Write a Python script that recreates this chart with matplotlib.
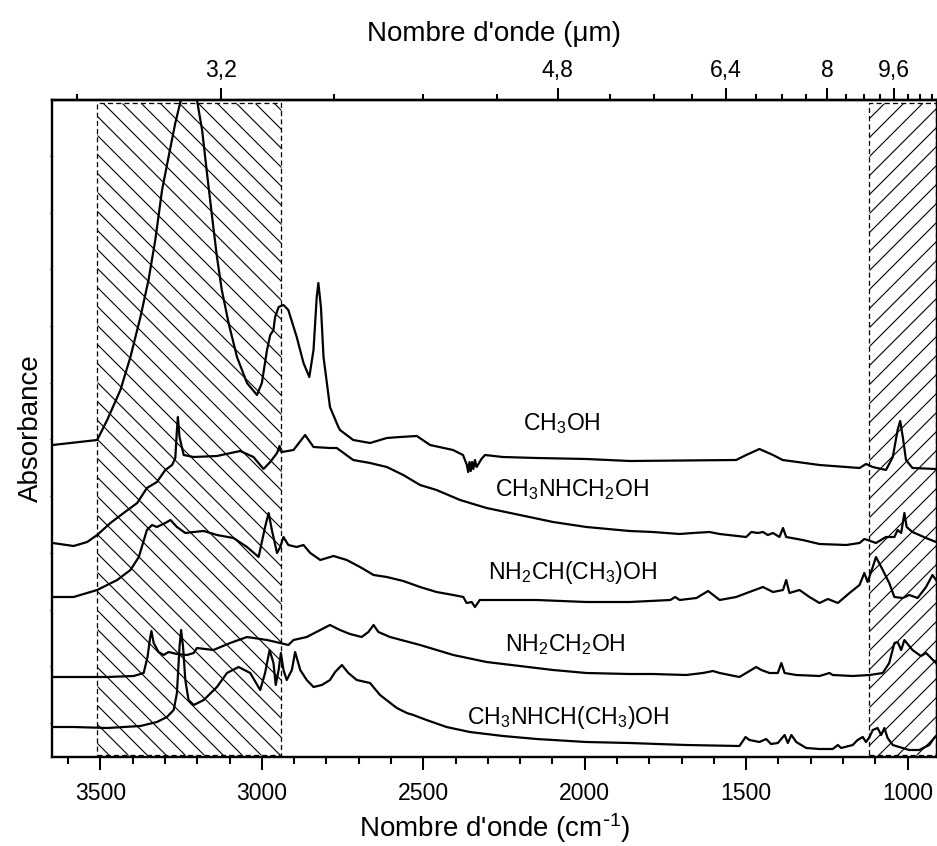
import numpy as np
import matplotlib.pyplot as plt
from matplotlib.patches import Rectangle
from matplotlib.ticker import MultipleLocator, FixedLocator, NullFormatter

plt.rcParams['font.family'] = ['Liberation Sans', 'DejaVu Sans']
plt.rcParams['mathtext.default'] = 'regular'
plt.rcParams['hatch.linewidth'] = 0.7
plt.rcParams['axes.unicode_minus'] = False

# spectra (wavenumber in cm-1, absorbance in arbitrary offset units)
ch3oh_wn = [3648, 3510, 3479, 3438, 3407, 3376, 3351, 3330, 3309, 3289, 3268, 3253, 3240,
            3228, 3214, 3201, 3185, 3170, 3154, 3139, 3124, 3103, 3077, 3046, 3015, 3000,
            2984, 2974, 2964, 2959, 2948, 2933, 2918, 2892, 2871, 2853, 2840, 2830, 2825,
            2817, 2809, 2789, 2763, 2758, 2717, 2665, 2613, 2572, 2520, 2479, 2408, 2377,
            2365, 2361, 2357, 2353, 2349, 2345, 2340, 2335, 2331, 2320, 2309, 2254, 2149,
            1995, 1861, 1531, 1500, 1459, 1417, 1387, 1273, 1149, 1129, 1108, 1067, 1046,
            1031, 1023, 1015, 1005, 985, 912]
ch3oh_abs = [3.12, 3.17, 3.37, 3.67, 4.00, 4.40, 4.77, 5.17, 5.67, 6.00, 6.34, 6.54, 6.68,
             6.74, 6.70, 6.57, 6.27, 5.84, 5.40, 5.00, 4.67, 4.34, 4.00, 3.74, 3.62, 3.74,
             4.07, 4.22, 4.27, 4.40, 4.50, 4.52, 4.47, 4.20, 3.94, 3.80, 4.07, 4.60, 4.74,
             4.50, 4.00, 3.50, 3.30, 3.27, 3.17, 3.14, 3.19, 3.20, 3.21, 3.12, 3.07, 3.02,
             2.92, 2.85, 2.95, 2.86, 2.95, 2.88, 2.97, 2.90, 2.92, 2.98, 3.02, 3.00, 2.99,
             2.98, 2.96, 2.97, 3.02, 3.08, 3.02, 2.97, 2.92, 2.89, 2.93, 2.90, 2.87, 3.00,
             3.27, 3.36, 3.20, 2.97, 2.89, 2.88]

mnm_wn = [3648, 3583, 3541, 3510, 3469, 3428, 3386, 3356, 3325, 3299, 3278, 3268, 3263,
          3260, 3255, 3242, 3211, 3139, 3067, 3026, 2995, 2974, 2953, 2945, 2938, 2902,
          2866, 2840, 2789, 2768, 2717, 2665, 2613, 2562, 2510, 2459, 2386, 2304, 2201,
          2098, 1995, 1861, 1789, 1706, 1665, 1614, 1582, 1500, 1484, 1464, 1448, 1433,
          1417, 1397, 1386, 1376, 1325, 1273, 1190, 1149, 1134, 1124, 1098, 1067, 1041,
          1031, 1020, 1010, 1003, 985, 943, 912]
mnm_abs = [2.14, 2.11, 2.15, 2.22, 2.34, 2.44, 2.54, 2.69, 2.75, 2.87, 2.92, 2.99, 3.27,
           3.40, 3.20, 3.02, 3.00, 3.01, 3.06, 3.00, 2.88, 2.95, 3.04, 3.11, 3.05, 3.07,
           3.22, 3.10, 3.09, 3.09, 2.97, 2.94, 2.90, 2.82, 2.72, 2.67, 2.57, 2.49, 2.42,
           2.35, 2.30, 2.26, 2.25, 2.23, 2.24, 2.25, 2.23, 2.20, 2.25, 2.24, 2.25, 2.22,
           2.24, 2.20, 2.29, 2.20, 2.17, 2.13, 2.12, 2.14, 2.18, 2.17, 2.14, 2.20, 2.20,
           2.27, 2.24, 2.44, 2.30, 2.25, 2.19, 2.15]

aeth_wn = [3648, 3583, 3510, 3448, 3407, 3381, 3356, 3340, 3325, 3299, 3283, 3263, 3237,
           3211, 3180, 3139, 3088, 3046, 3010, 2990, 2979, 2969, 2953, 2943, 2933, 2918,
           2892, 2871, 2850, 2819, 2778, 2737, 2696, 2654, 2613, 2562, 2510, 2459, 2407,
           2376, 2366, 2350, 2340, 2325, 2253, 2149, 1995, 1861, 1735, 1720, 1706, 1654,
           1618, 1582, 1531, 1490, 1448, 1417, 1386, 1376, 1366, 1335, 1304, 1273, 1247,
           1216, 1180, 1149, 1134, 1124, 1108, 1098, 1077, 1057, 1041, 1015, 995, 969,
           943, 923, 912]
aeth_abs = [1.60, 1.60, 1.67, 1.77, 1.87, 2.00, 2.27, 2.32, 2.30, 2.34, 2.37, 2.30, 2.24,
            2.25, 2.26, 2.22, 2.19, 2.10, 2.00, 2.30, 2.44, 2.27, 2.04, 2.10, 2.20, 2.12,
            2.10, 2.12, 2.04, 1.97, 2.01, 1.97, 1.90, 1.82, 1.80, 1.76, 1.70, 1.65, 1.62,
            1.60, 1.54, 1.55, 1.50, 1.57, 1.57, 1.57, 1.55, 1.55, 1.57, 1.60, 1.57, 1.59,
            1.66, 1.57, 1.60, 1.65, 1.70, 1.65, 1.67, 1.77, 1.64, 1.67, 1.60, 1.54, 1.58,
            1.54, 1.64, 1.72, 1.84, 1.75, 1.90, 2.00, 1.87, 1.74, 1.60, 1.59, 1.62, 1.59,
            1.70, 1.82, 1.77]

am_wn = [3648, 3583, 3479, 3397, 3366, 3354, 3347, 3342, 3335, 3320, 3304, 3289, 3263,
         3232, 3211, 3201, 3150, 3098, 3046, 2984, 2943, 2918, 2902, 2861, 2819, 2789,
         2758, 2727, 2691, 2670, 2654, 2639, 2603, 2510, 2407, 2304, 2201, 2098, 1995,
         1861, 1789, 1686, 1634, 1603, 1582, 1521, 1500, 1469, 1453, 1428, 1402, 1391,
         1381, 1345, 1273, 1242, 1232, 1170, 1118, 1077, 1057, 1041, 1031, 1020, 1010,
         985, 959, 943, 912]
am_abs = [0.80, 0.80, 0.80, 0.81, 0.84, 1.00, 1.17, 1.26, 1.14, 1.05, 1.02, 1.05, 1.03,
          1.02, 1.04, 1.09, 1.07, 1.14, 1.20, 1.17, 1.14, 1.12, 1.17, 1.20, 1.27, 1.32,
          1.27, 1.23, 1.20, 1.25, 1.32, 1.25, 1.20, 1.12, 1.02, 0.95, 0.91, 0.87, 0.84,
          0.83, 0.83, 0.82, 0.84, 0.86, 0.84, 0.80, 0.84, 0.90, 0.87, 0.84, 0.84, 0.94,
          0.84, 0.82, 0.81, 0.84, 0.82, 0.81, 0.82, 0.84, 0.94, 1.14, 1.15, 1.07, 1.17,
          1.07, 1.01, 1.04, 0.94]

mnme_wn = [3648, 3583, 3479, 3376, 3325, 3294, 3273, 3263, 3255, 3250, 3244, 3237, 3227,
           3211, 3180, 3139, 3108, 3072, 3036, 3005, 2990, 2976, 2964, 2957, 2948, 2941,
           2933, 2923, 2907, 2897, 2881, 2861, 2840, 2814, 2789, 2773, 2752, 2732, 2706,
           2665, 2634, 2582, 2551, 2531, 2490, 2428, 2356, 2253, 2149, 1995, 1861, 1686,
           1521, 1508, 1502, 1490, 1459, 1438, 1423, 1402, 1381, 1371, 1360, 1345, 1314,
           1273, 1232, 1216, 1206, 1170, 1155, 1139, 1129, 1118, 1108, 1093, 1082, 1072,
           1062, 1046, 1026, 995, 964, 933, 918, 912]
mnme_abs = [0.30, 0.30, 0.29, 0.31, 0.35, 0.40, 0.47, 0.64, 1.10, 1.27, 1.10, 0.77, 0.57,
            0.52, 0.57, 0.70, 0.84, 0.90, 0.84, 0.67, 0.84, 1.07, 0.94, 0.72, 0.87, 1.04,
            0.87, 0.77, 0.87, 1.05, 0.87, 0.77, 0.70, 0.72, 0.77, 0.85, 0.92, 0.84, 0.77,
            0.74, 0.62, 0.49, 0.44, 0.42, 0.37, 0.30, 0.25, 0.21, 0.18, 0.15, 0.14, 0.12,
            0.11, 0.17, 0.20, 0.17, 0.15, 0.18, 0.13, 0.14, 0.22, 0.14, 0.22, 0.15, 0.09,
            0.08, 0.08, 0.12, 0.09, 0.12, 0.17, 0.20, 0.15, 0.20, 0.27, 0.29, 0.22, 0.29,
            0.19, 0.12, 0.10, 0.07, 0.07, 0.12, 0.19, 0.21]

spectra = [(ch3oh_wn, ch3oh_abs), (mnm_wn, mnm_abs), (aeth_wn, aeth_abs),
           (am_wn, am_abs), (mnme_wn, mnme_abs)]

names = [r'CH$_3$OH', r'CH$_3$NHCH$_2$OH', r'NH$_2$CH(CH$_3$)OH',
         r'NH$_2$CH$_2$OH', r'CH$_3$NHCH(CH$_3$)OH']
name_wn = [2191, 2278, 2299, 2247, 2366]
name_abs = [3.33, 2.67, 1.84, 1.12, 0.40]

# hatched bands (cm-1)
band_lo = [2940, 912]
band_hi = [3510, 1121]
band_hatch = ['\\\\', '//']

top_major = [3.2, 4.8, 6.4, 8, 9.6]
top_major_labels = ['3,2', '4,8', '6,4', '8', '9,6']

fig = plt.figure(figsize=(938 / 114, 846 / 114), dpi=114)
ax = fig.add_axes([0.0554, 0.1052, 0.9432, 0.7766])

for wn, a in spectra:
    ax.plot(wn, a, color='black', lw=1.4)

for lo, hi, h in zip(band_lo, band_hi, band_hatch):
    ax.add_patch(Rectangle((hi, 0.02), lo - hi, 6.52, fill=False, hatch=h,
                           edgecolor='black', lw=0.8, ls=(0, (4, 2.5))))

for n, x, y in zip(names, name_wn, name_abs):
    ax.text(x, y, n, fontsize=14.5, ha='left', va='center')

ax.set_xlim(3650, 910)
ax.set_ylim(0, 6.57)
ax.xaxis.set_major_locator(MultipleLocator(500))
ax.xaxis.set_minor_locator(MultipleLocator(100))
ax.yaxis.set_major_locator(FixedLocator(np.arange(0.34, 6.5, 0.567)))
ax.yaxis.set_major_formatter(NullFormatter())
ax.tick_params(axis='x', which='major', direction='out', length=8.5, width=1.3,
               labelsize=14.5, pad=7, top=False)
ax.tick_params(axis='x', which='minor', direction='out', length=4.5, width=1.3, top=False)
ax.tick_params(axis='y', which='major', direction='out', length=1.5, width=0.8, right=False)
for s in ax.spines.values():
    s.set_linewidth(1.5)

ax.set_xlabel("Nombre d'onde (cm$^{\\text{-}1}$)", fontsize=17.5, labelpad=4)
ax.set_ylabel('Absorbance', fontsize=17.5, labelpad=0)

sec = ax.secondary_xaxis('top', functions=(lambda x: 10000 / x, lambda x: 10000 / x))
sec.xaxis.set_major_locator(FixedLocator(top_major))
sec.set_xticklabels(top_major_labels)
sec.xaxis.set_minor_locator(FixedLocator(np.arange(2.8, 11.0, 0.4)))
sec.tick_params(axis='x', which='major', direction='out', length=7.5, width=1.3,
                labelsize=14.5, pad=4)
sec.tick_params(axis='x', which='minor', direction='out', length=4, width=1.3)
sec.spines['top'].set_linewidth(1.5)
sec.set_xlabel("Nombre d'onde (\u03bcm)", fontsize=17.5, labelpad=11)

fig.savefig('out.png', dpi=114)
